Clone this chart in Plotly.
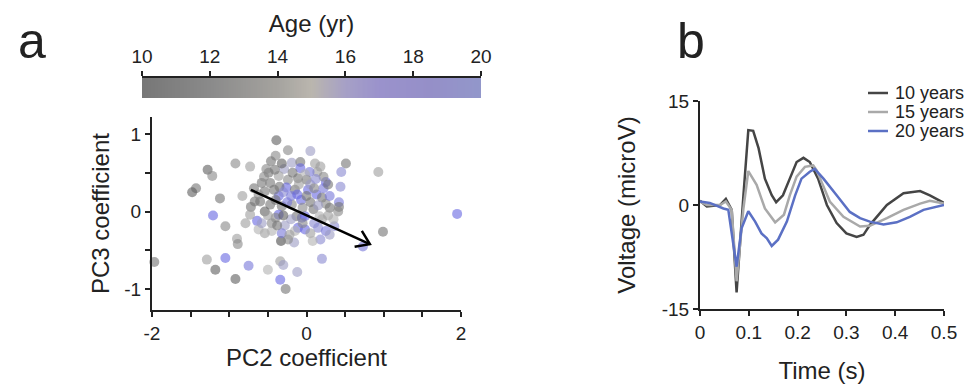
import plotly.graph_objects as go
import numpy as np

# ---------------- data: panel a (scatter) ----------------
pc2 = [-0.39, -0.24, 0.05, -0.40, 0.51, -0.92, -0.73, -1.28, -1.22, 0.93,
       0.45, 0.25, 0.44, -1.43, -1.48, -1.12, -0.83, 0.42, 0.42, -1.21,
       1.95, -1.05, -0.79, -0.64, 0.99, -0.90, -0.89, -0.33, -0.16, 0.18,
       0.73, 0.20, -1.05, -1.29, -1.97, -1.18, -0.75, -0.50, -0.34, -0.30,
       -0.12, -0.92, -0.34, -0.27, -0.54, -0.62, -0.45, -0.28, -0.32, -0.24,
       -0.11, -0.02, -0.06, 0.15, 0.20, 0.36, -0.72, -0.73, -0.67,
       -0.46, -0.19, -0.08, -0.08, 0.11, 0.14, 0.04, -0.29, -0.49, -0.36,
       -0.41, -0.11, 0.00, -0.24, -0.58, -0.47, -0.26, -0.15, 0.02, 0.13,
       0.20, -0.07, -0.36, -0.54, -0.60, -0.47, -0.32, -0.19, 0.09, 0.41,
       -0.36, -0.54, -0.13, -0.02, 0.17,
       -0.55, -0.35, -0.30, -0.20, -0.10, 0.05, 0.10, 0.22, 0.25, 0.30,
       0.28, 0.10, -0.05, -0.20, -0.40, -0.50, -0.62, -0.40, -0.25, -0.05,
       0.05, 0.15, -0.15, 0.05, -0.45, -0.38, 0.22, 0.18, -0.02, -0.18,
       -0.52, -0.32, 0.30, 0.00, -0.12, -0.30, 0.35, 0.25, 0.28, -0.68,
       -0.58, 0.12, -0.22, 0.30, -0.42, 0.08]
pc3 = [0.92, 0.79, 0.78, 0.72, 0.62, 0.62, 0.58, 0.54, 0.46, 0.51,
       0.51, 0.38, 0.32, 0.30, 0.25, 0.17, 0.20, 0.12, 0.06, -0.05,
       -0.03, -0.19, -0.15, -0.12, -0.26, -0.35, -0.42, -0.38, -0.40, -0.36,
       -0.45, -0.61, -0.60, -0.62, -0.65, -0.75, -0.70, -0.75, -0.64, -0.69,
       -0.78, -0.87, -0.88, -1.00, -0.28, -0.23, -0.15, -0.18, -0.28, -0.36,
       -0.21, -0.23, -0.08, -0.21, -0.10, -0.19, 0.06, -0.04, 0.13,
       0.65, 0.63, 0.64, 0.56, 0.62, 0.51, 0.51, 0.55, 0.50, 0.46,
       0.54, 0.43, 0.41, 0.41, 0.37, 0.37, 0.31, 0.28, 0.28, 0.22,
       0.18, 0.15, 0.20, 0.26, 0.13, 0.09, 0.07, 0.09, 0.03, 0.00,
       -0.04, 0.00, -0.06, -0.06, -0.06,
       0.45, 0.32, 0.25, 0.20, 0.35, 0.35, 0.30, 0.30, 0.10, 0.05,
       -0.05, -0.15, -0.15, -0.10, -0.08, -0.05, 0.22, 0.15, 0.12, 0.05,
       0.12, 0.08, -0.25, -0.28, -0.25, -0.18, 0.45, 0.58, 0.48, 0.50,
       0.55, 0.62, 0.20, 0.20, 0.22, -0.05, -0.10, -0.25, 0.35, 0.30,
       -0.15, 0.42, -0.30, -0.30, 0.28, -0.38]
age = [11, 13, 16, 13, 12, 13, 14, 11, 13, 14,
       17, 19, 17, 12, 11, 12, 14, 18, 12, 19,
       19, 13, 14, 19, 12, 14, 13, 10, 16, 17,
       18, 17, 19, 14, 12, 11, 18, 15, 14, 16,
       16, 11, 19, 12, 14, 15, 13, 16, 18, 13,
       19, 19, 19, 17, 14, 17, 12, 14, 12,
       12, 16, 12, 19, 14, 14, 18, 16, 12, 14,
       12, 12, 12, 13, 12, 12, 19, 12, 19, 19,
       12, 19, 19, 12, 12, 12, 12, 13, 12, 13,
       19, 11, 12, 19, 15,
       13, 12, 17, 18, 14, 16, 13, 18, 13, 12,
       14, 17, 13, 16, 13, 14, 13, 12, 18, 13,
       12, 16, 15, 14, 15, 12, 13, 14, 15, 12,
       13, 11, 18, 12, 19, 11, 15, 18, 12, 12,
       16, 17, 14, 16, 12, 15]

arrow_start = (-0.72, 0.28)
arrow_end = (0.82, -0.42)

age_ticks = [10, 12, 14, 16, 18, 20]

# ---------------- data: panel b (ERP waveforms) ----------------
t10 = [0.0, 0.014, 0.041, 0.053, 0.065, 0.075, 0.089, 0.099, 0.109, 0.12,
       0.133, 0.147, 0.156, 0.17, 0.184, 0.198, 0.212, 0.225, 0.242, 0.26,
       0.28, 0.30, 0.321, 0.335, 0.348, 0.362, 0.383, 0.417, 0.451, 0.471, 0.5]
v10 = [0.6, -0.2, 0.0, 0.9, -0.7, -12.6, 1.4, 10.8, 10.7, 8.2,
       3.8, 1.4, 0.4, 1.4, 3.8, 6.2, 6.8, 6.2, 3.8, 0.0,
       -2.6, -4.1, -4.6, -4.3, -2.9, -1.8, 0.0, 1.7, 2.0, 1.4, 0.3]
t15 = [0.0, 0.014, 0.041, 0.053, 0.065, 0.075, 0.089, 0.099, 0.116, 0.133,
       0.154, 0.172, 0.184, 0.198, 0.215, 0.232, 0.239, 0.266, 0.294, 0.328,
       0.348, 0.383, 0.417, 0.451, 0.471, 0.5]
v15 = [0.5, 0.0, 0.0, 0.5, -0.7, -11.0, -0.5, 4.9, 2.9, -0.5,
       -2.5, -1.4, 1.4, 4.1, 5.5, 5.7, 5.0, 0.5, -1.7, -3.1,
       -3.0, -1.9, -0.7, 0.2, 0.6, 0.2]
t20 = [0.0, 0.02, 0.048, 0.058, 0.075, 0.085, 0.099, 0.113, 0.126, 0.137,
       0.147, 0.16, 0.178, 0.195, 0.208, 0.225, 0.235, 0.253, 0.28, 0.307,
       0.328, 0.348, 0.376, 0.403, 0.43, 0.458, 0.5]
v20 = [0.5, 0.3, -0.5, -0.7, -8.9, -3.4, -0.9, -2.4, -4.1, -4.8,
       -5.9, -5.0, -2.4, 1.4, 3.8, 4.8, 5.2, 3.8, 1.4, -1.0,
       -1.9, -2.4, -2.8, -2.5, -1.7, -0.7, 0.0]
series_names = ["10 years", "15 years", "20 years"]
series_colors = ["#454545", "#a9a9a9", "#5b70c4"]

time_ticks = [0, 0.1, 0.2, 0.3, 0.4, 0.5]
volt_ticks = [-15, 0, 15]

# ---------------- geometry helpers ----------------
# the page places the plot 8px from the top-left corner
OX, OY = 8, 8
W, H = 976 - OX, 385 - OY


def fx(px):
    return (px - OX) / W


def fy(py):
    return 1 - (py - OY) / H


FONT = "Liberation Sans, Arial, Helvetica, sans-serif"
AX = "#222222"

fig = go.Figure()

# scatter
fig.add_trace(go.Scatter(
    x=pc2, y=pc3, mode="markers", xaxis="x", yaxis="y",
    marker=dict(size=10, color=age, cmin=10, cmax=20, opacity=0.6,
                colorscale=[[0, "#4a4a4a"], [0.5, "#b0b0b0"],
                            [0.65, "#9090cc"], [1, "#5555ea"]],
                showscale=False, line=dict(width=0)),
    cliponaxis=False, showlegend=False, hoverinfo="skip"))

# arrow (shaft + open chevron head derived from endpoints)
sx, sy = arrow_start
ex, ey = arrow_end
ang = np.arctan2(ey - sy, ex - sx)
hl = 0.2
a1, a2 = ang + np.pi - 0.6, ang + np.pi + 0.6
fig.add_trace(go.Scatter(
    x=[sx, ex, None, ex + hl * np.cos(a1), ex, ex + hl * np.cos(a2)],
    y=[sy, ey, None, ey + hl * np.sin(a1), ey, ey + hl * np.sin(a2)],
    mode="lines", line=dict(color="black", width=2.5),
    xaxis="x", yaxis="y", showlegend=False, hoverinfo="skip"))

# color bar as heatmap
grid = np.linspace(age_ticks[0], age_ticks[-1], 201)
fig.add_trace(go.Heatmap(
    x=grid, y=[0, 1], z=[grid, grid], xaxis="x3", yaxis="y3",
    colorscale=[[0, "#777777"], [0.2, "#8a8a8a"], [0.4, "#a5a39f"],
                [0.5, "#bab6ae"], [0.6, "#a6a0c6"], [0.7, "#9a92cc"],
                [0.85, "#958fc8"], [1, "#9297ca"]],
    showscale=False, hoverinfo="skip"))

# waveforms
for tt, vv, nm, col in zip([t10, t15, t20], [v10, v15, v20], series_names, series_colors):
    fig.add_trace(go.Scatter(x=tt, y=vv, mode="lines", name=nm,
                             line=dict(color=col, width=2.5),
                             xaxis="x2", yaxis="y2", showlegend=False))

tickfont = dict(family=FONT, size=19, color="#222")
titlefont = dict(family=FONT, size=24, color="#222")
common = dict(showline=True, linecolor=AX, linewidth=2, ticks="outside",
              ticklen=5, tickwidth=1.5, tickcolor=AX, showgrid=False,
              zeroline=False, tickfont=tickfont, fixedrange=True,
              automargin=False)

xv = [-2, -1.5, -1, -0.5, 0, 0.5, 1, 1.5, 2]
yv = [-1, -0.5, 0, 0.5, 1]

# manual compact legend (text + short line sample)
LEG_X0, LEG_X1, LEG_TX, LEG_Y0, LEG_DY = 868, 888, 894, 93, 19
annotations = []
shapes = []
for i, (nm, col) in enumerate(zip(series_names, series_colors)):
    yy = LEG_Y0 + i * LEG_DY
    shapes.append(dict(type="line", xref="paper", yref="paper",
                       x0=fx(LEG_X0), x1=fx(LEG_X1), y0=fy(yy), y1=fy(yy),
                       line=dict(color=col, width=2.5)))
    annotations.append(dict(text=nm, x=fx(LEG_TX), y=fy(yy), xref="paper", yref="paper",
                            xanchor="left", yanchor="middle", showarrow=False,
                            borderpad=0,
                            font=dict(family=FONT, size=18, color="#222")))

for letter, lx in (("a", 32), ("b", 691)):
    annotations.append(dict(text=letter, x=fx(lx), y=fy(11), xref="paper", yref="paper",
                            xanchor="center", yanchor="top", showarrow=False,
                            font=dict(family=FONT, size=50, color="#222")))

fig.update_layout(
    template="none",
    width=W, height=H, margin=dict(l=0, r=0, t=0, b=0, autoexpand=False),
    paper_bgcolor="white", plot_bgcolor="white",
    font=dict(family=FONT, color="#222"),
    showlegend=False,
    xaxis=dict(domain=[fx(152), fx(461)], range=[-2, 2], anchor="y",
               tickvals=xv, ticktext=[str(int(v)) if v in (-2, 0, 2) else "" for v in xv],
               title=dict(text="PC2 coefficient", font=titlefont, standoff=6), **common),
    yaxis=dict(domain=[fy(310), fy(117)], range=[-1.27, 1.22], anchor="x",
               tickvals=yv, ticktext=[str(int(v)) if v in (-1, 0, 1) else "" for v in yv],
               title=dict(text="PC3 coefficient", font=titlefont, standoff=8), **common),
    xaxis2=dict(domain=[fx(700), fx(944)], range=[0, 0.5], anchor="y2",
                tickvals=time_ticks, ticktext=[("%g" % v) for v in time_ticks],
                title=dict(text="Time (s)", font=titlefont, standoff=20), **common),
    yaxis2=dict(domain=[fy(309), fy(101)], range=[-15, 15], anchor="x2",
                tickvals=volt_ticks, ticktext=[str(v) for v in volt_ticks],
                title=dict(text="Voltage (microV)", font=titlefont, standoff=19), **common),
    xaxis3=dict(domain=[fx(142), fx(481)], range=[10, 20], anchor="y3", side="top",
                tickvals=age_ticks, ticktext=[str(v) for v in age_ticks],
                title=dict(text="Age (yr)", font=titlefont, standoff=7), **common),
    yaxis3=dict(domain=[fy(98), fy(78)], range=[0, 1], anchor="x3",
                visible=False, fixedrange=True),
    annotations=annotations,
    shapes=shapes,
)

fig.write_html("out.html")
